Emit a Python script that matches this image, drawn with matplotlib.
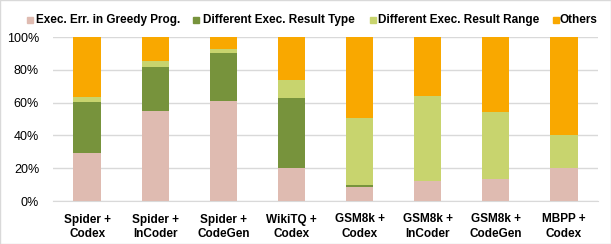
import numpy as np
import matplotlib
matplotlib.use("Agg")
import matplotlib.pyplot as plt
from matplotlib.ticker import PercentFormatter

categories = ["Spider +\nCodex", "Spider +\nInCoder", "Spider +\nCodeGen", "WikiTQ +\nCodex",
              "GSM8k +\nCodex", "GSM8k +\nInCoder", "GSM8k +\nCodeGen", "MBPP +\nCodex"]
exec_err = [29, 55, 61, 20, 8.5, 12, 13.5, 20]
diff_type = [31.5, 27, 29.5, 43, 1.5, 0, 0, 0]
diff_range = [3, 3.5, 2, 11, 40.5, 52, 40.5, 20]
others = [100 - a - b - c for a, b, c in zip(exec_err, diff_type, diff_range)]

names = ["Exec. Err. in Greedy Prog.", "Different Exec. Result Type",
         "Different Exec. Result Range", "Others"]
colors = ["#DFBBB1", "#77933C", "#C8D46E", "#F9A800"]
values = [exec_err, diff_type, diff_range, others]

plt.rcParams['font.family'] = ['Liberation Sans', 'DejaVu Sans']

W, H = 611, 244
fig = plt.figure(figsize=(W / 100, H / 100), dpi=100)
ax = fig.add_axes([53 / W, 1 - 201 / H, 545 / W, 164 / H])

x = np.arange(len(categories))
bottom = np.zeros(len(categories))
for name, vals, col in zip(names, values, colors):
    ax.bar(x, vals, 0.4, bottom=bottom, color=col, zorder=3)
    bottom += np.array(vals)

ax.set_xlim(-0.5, len(categories) - 0.5)
ax.set_ylim(0, 100)
ax.set_yticks(np.arange(0, 101, 20))
ax.yaxis.set_major_formatter(PercentFormatter(decimals=0))
ax.grid(axis='y', color='#D9D9D9', linewidth=1, zorder=0)
for s in ['top', 'right', 'left']:
    ax.spines[s].set_visible(False)
ax.spines['bottom'].set_color('#D9D9D9')
ax.tick_params(axis='both', length=0, labelsize=9)
ax.tick_params(axis='y', pad=10)
ax.tick_params(axis='x', pad=9)
ax.set_xticks(x)
ax.set_xticklabels(categories, fontweight='bold', linespacing=1.3, fontsize=8.5)

# legend entries laid out like the original
sq_x = [27, 193, 370, 553]
txt_x = [36, 203, 378, 560]
for name, col, sx, tx in zip(names, colors, sq_x, txt_x):
    fig.patches.append(plt.Rectangle((sx / W, 1 - 23 / H), 6 / W, 6 / H,
                                     transform=fig.transFigure, color=col))
    fig.text(tx / W, 1 - 20 / H, name, fontsize=8.5, fontweight='bold', va='center', ha='left')

fig.patches.append(plt.Rectangle((0, 0), 1, 1, transform=fig.transFigure,
                                 fill=False, edgecolor='#D9D9D9', linewidth=1))
fig.savefig("out.png", dpi=100)
